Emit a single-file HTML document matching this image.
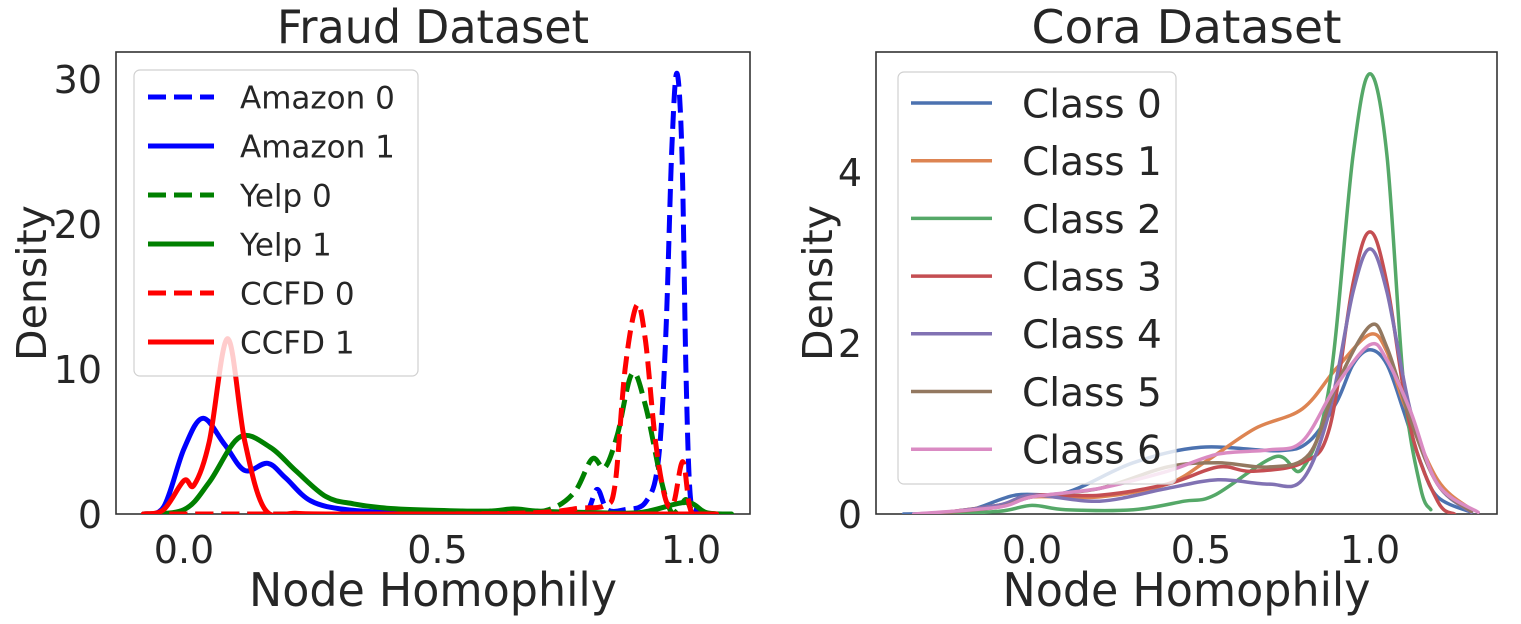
<!DOCTYPE html>
<html><head><meta charset="utf-8"><style>
html,body{margin:0;padding:0;background:#fff;}
svg{display:block;font-family:"DejaVu Sans","Liberation Sans",sans-serif;}
</style></head><body>
<svg id="chart" width="1521" height="624" viewBox="0 0 1521 624">
<rect x="0" y="0" width="1521" height="624" fill="#fff"/>
<g id="left"></g>
<g id="right"></g>
</svg>
<script>
// ---------- data: Fraud dataset ----------
const fraudNames = ["Amazon 0","Amazon 1","Yelp 0","Yelp 1","CCFD 0","CCFD 1"];
const fraudColors = ["#0000ff","#0000ff","#008000","#008000","#ff0000","#ff0000"];
const fraudDashed = [true,false,true,false,true,false];
const amazon0X = [-0.08,0.5,0.76,0.795,0.815,0.835,0.87,0.91,0.935,0.95,0.962,0.972,0.982,0.99,0.998,1.01,1.03];
const amazon0Y = [0,0,0,0.2,1.7,0.3,0.3,0.8,3.5,12,25,30.4,25,10,1.5,0.2,0];
const amazon1X = [-0.08,-0.04,0.0,0.037,0.08,0.12,0.165,0.2,0.25,0.32,0.42,0.55,0.7];
const amazon1Y = [0,0.5,4.5,6.6,4.8,3.0,3.5,2.5,0.9,0.3,0.1,0.03,0];
const yelp0X = [-0.08,0.5,0.65,0.72,0.77,0.805,0.83,0.855,0.884,0.91,0.94,0.96,0.975,0.99,1.005,1.05];
const yelp0Y = [0,0,0.1,0.3,1.5,3.8,3.2,5.5,9.7,7.5,2.5,0.2,0.3,1.0,0.2,0];
const yelp1X = [-0.08,0.0,0.05,0.11,0.17,0.22,0.28,0.335,0.4,0.5,0.6,0.65,0.7,0.8,0.9,0.99,1.03,1.08];
const yelp1Y = [0,0.3,2.2,5.3,4.6,3.0,1.2,0.7,0.4,0.25,0.2,0.35,0.2,0.1,0.1,0.8,0.1,0];
const ccfd0X = [-0.08,0.5,0.7,0.78,0.83,0.85,0.87,0.893,0.91,0.93,0.95,0.966,0.984,1.0,1.03];
const ccfd0Y = [0,0,0.1,0.4,0.6,2.0,10,14.4,12,5,1.0,0.8,3.6,0.2,0];
const ccfd1X = [-0.08,-0.04,0.0,0.02,0.05,0.086,0.12,0.16,0.22,0.3,0.6,1.0,1.05];
const ccfd1Y = [0,0.3,2.3,2.0,5,12.1,5,0.3,0.05,0,0,0,0];
const fraudXTicks = [0.0,0.5,1.0];
const fraudXTickLabels = ["0.0","0.5","1.0"];
const fraudYTicks = [0,10,20,30];
const fraudYTickLabels = ["0","10","20","30"];

// ---------- data: Cora dataset ----------
const coraNames = ["Class 0","Class 1","Class 2","Class 3","Class 4","Class 5","Class 6"];
const coraColors = ["#4c72b0","#dd8452","#55a868","#c44e52","#8172b3","#937860","#da8bc3"];
const class0X = [-0.38,-0.2,-0.05,0.1,0.3,0.5,0.73,0.82,0.9,0.95,1.0,1.05,1.1,1.15,1.2,1.3];
const class0Y = [0,0.03,0.22,0.25,0.6,0.78,0.74,0.85,1.3,1.75,1.92,1.75,1.2,0.6,0.2,0.02];
const class1X = [-0.3,-0.1,0.0,0.2,0.4,0.52,0.66,0.8,0.9,1.0,1.05,1.1,1.2,1.3];
const class1Y = [0,0.1,0.2,0.2,0.35,0.63,1.0,1.23,1.7,2.1,1.9,1.3,0.4,0.05];
const class2X = [-0.3,-0.1,0.0,0.1,0.3,0.45,0.54,0.72,0.8,0.88,0.95,1.0,1.05,1.1,1.15,1.18];
const class2Y = [0,0.03,0.1,0.05,0.05,0.15,0.22,0.67,0.53,1.5,4.2,5.15,4.2,1.5,0.3,0.05];
const class3X = [-0.3,-0.1,0.0,0.2,0.4,0.55,0.65,0.8,0.88,0.95,1.0,1.05,1.12,1.2,1.25];
const class3Y = [0,0.1,0.22,0.22,0.35,0.55,0.5,0.6,1.0,2.7,3.3,2.7,1.0,0.15,0];
const class4X = [-0.3,-0.1,0.0,0.2,0.4,0.55,0.7,0.8,0.88,0.95,1.0,1.05,1.12,1.2,1.3];
const class4Y = [0,0.1,0.22,0.15,0.3,0.4,0.35,0.4,1.2,2.6,3.1,2.6,1.2,0.35,0.02];
const class5X = [-0.3,-0.1,0.0,0.2,0.4,0.55,0.7,0.82,0.9,1.0,1.05,1.12,1.2,1.3];
const class5Y = [0,0.08,0.2,0.3,0.55,0.6,0.55,0.7,1.5,2.2,1.95,1.1,0.35,0.03];
const class6X = [-0.35,-0.1,0.0,0.2,0.4,0.55,0.7,0.8,0.9,1.0,1.05,1.12,1.2,1.32];
const class6Y = [0,0.08,0.2,0.3,0.5,0.7,0.75,0.85,1.5,1.98,1.8,1.2,0.35,0.02];
const coraXTicks = [0.0,0.5,1.0];
const coraXTickLabels = ["0.0","0.5","1.0"];
const coraYTicks = [0,2,4];
const coraYTickLabels = ["0","2","4"];

const NS = "http://www.w3.org/2000/svg";
function mk(tag, attrs, parent){
  const e = document.createElementNS(NS, tag);
  for (const k in attrs) e.setAttribute(k, attrs[k]);
  parent.appendChild(e);
  return e;
}
function smoothPath(pts){
  let d = "M" + pts[0][0].toFixed(1) + "," + pts[0][1].toFixed(1);
  for (let i = 0; i < pts.length - 1; i++){
    const p0 = pts[Math.max(0,i-1)], p1 = pts[i], p2 = pts[i+1], p3 = pts[Math.min(pts.length-1,i+2)];
    const c1x = p1[0] + (p2[0]-p0[0])/6, c1y = p1[1] + (p2[1]-p0[1])/6;
    const c2x = p2[0] - (p3[0]-p1[0])/6, c2y = p2[1] - (p3[1]-p1[1])/6;
    d += " C" + c1x.toFixed(1)+","+c1y.toFixed(1)+" "+c2x.toFixed(1)+","+c2y.toFixed(1)+" "+p2[0].toFixed(1)+","+p2[1].toFixed(1);
  }
  return d;
}

function panel(g, cfg){
  const {L,T,R,B,xs,ys} = cfg;
  const frame = mk("rect",{x:L,y:T,width:R-L,height:B-T,fill:"none",stroke:"#333",'stroke-width':1.6},g);
  
  
  const sg = mk("g",{'clip-path':"url(#"+cfg.clip+")"},g);
  const cp = mk("clipPath",{id:cfg.clip},g);
  mk("rect",{x:L,y:T,width:R-L,height:B-T},cp);
  cfg.series.forEach((s,i)=>{
    const pts = s.x.map((v,j)=>[xs(v), Math.min(B, ys(s.y[j]))]);
    const p = mk("path",{d:smoothPath(pts),fill:"none",stroke:s.color,'stroke-width':cfg.lw,'stroke-linecap':s.dashed?"butt":"round",'stroke-linejoin':"round"},sg);
    if (s.dashed) p.setAttribute("stroke-dasharray","18,8");
    
    
  });
  cfg.xTicks.forEach((v,i)=>{
    const t = mk("text",{x:xs(v),y:B+49,'font-size':38,fill:"#262626",'text-anchor':"middle"},g);
    t.textContent = cfg.xTickLabels[i];
    
    
  });
  cfg.yTicks.forEach((v,i)=>{
    const t = mk("text",{x:L-14,y:ys(v)+14,'font-size':38,fill:"#262626",'text-anchor':"end"},g);
    t.textContent = cfg.yTickLabels[i];
    
    
  });
  const title = mk("text",{x:(L+R)/2,y:T-9,'font-size':46,fill:"#262626",'text-anchor':"middle",textLength:cfg.titleW,lengthAdjust:"spacingAndGlyphs"},g);
  title.textContent = cfg.title;
  
  
  const xl = mk("text",{x:(L+R)/2,y:606,'font-size':46,fill:"#262626",'text-anchor':"middle",textLength:368,lengthAdjust:"spacingAndGlyphs"},g);
  xl.textContent = "Node Homophily";
  
  
  const yl = mk("text",{x:0,y:0,'font-size':41,fill:"#262626",'text-anchor':"middle",transform:"translate("+cfg.ylx+","+((T+B)/2)+") rotate(-90)"},g);
  yl.textContent = "Density";
  
  
  const lg = mk("g",{},g);
  
  
  const lb = cfg.legend;
  mk("rect",{x:lb.x,y:lb.y,width:lb.w,height:lb.h,rx:6,fill:"#fff",'fill-opacity':0.8,stroke:"#d0d0d0",'stroke-width':1.2},lg);
  cfg.series.forEach((s,i)=>{
    const cy = lb.y0 + i*lb.dy;
    const ln = mk("line",{x1:lb.lx1,x2:lb.lx2,y1:cy,y2:cy,stroke:s.color,'stroke-width':cfg.lw},lg);
    if (s.dashed) ln.setAttribute("stroke-dasharray","18,8");
    
    
    const tx = mk("text",{x:lb.tx,y:cy+lb.fs*0.37,'font-size':lb.fs,fill:"#262626"},lg);
    tx.textContent = s.name;
    
    
  });
}

const fraudXs = [amazon0X,amazon1X,yelp0X,yelp1X,ccfd0X,ccfd1X];
const fraudYs = [amazon0Y,amazon1Y,yelp0Y,yelp1Y,ccfd0Y,ccfd1Y];
panel(document.getElementById("left"),{
  L:116,T:52,R:750,B:514,clip:"clipL",lw:5,title:"Fraud Dataset",titleW:312,ylx:46,
  xs:v=>184+507*v, ys:v=>514-14.5*v,
  xTicks:fraudXTicks,xTickLabels:fraudXTickLabels,yTicks:fraudYTicks,yTickLabels:fraudYTickLabels,
  series:fraudNames.map((n,i)=>({name:n,color:fraudColors[i],dashed:fraudDashed[i],x:fraudXs[i],y:fraudYs[i]})),
  legend:{x:134,y:70,w:284,h:306,y0:97,dy:49,lx1:148,lx2:214,tx:240,fs:31}
});
const coraXs = [class0X,class1X,class2X,class3X,class4X,class5X,class6X];
const coraYs = [class0Y,class1Y,class2Y,class3Y,class4Y,class5Y,class6Y];
panel(document.getElementById("right"),{
  L:876,T:52,R:1497,B:514,clip:"clipR",lw:3.5,title:"Cora Dataset",titleW:310,ylx:832,
  xs:v=>1032+338*v, ys:v=>514-85.5*v,
  xTicks:coraXTicks,xTickLabels:coraXTickLabels,yTicks:coraYTicks,yTickLabels:coraYTickLabels,
  series:coraNames.map((n,i)=>({name:n,color:coraColors[i],dashed:false,x:coraXs[i],y:coraYs[i]})),
  legend:{x:898,y:72,w:278,h:412,y0:103,dy:57.7,lx1:911,lx2:992,tx:1022,fs:39}
});
</script>
</body></html>
